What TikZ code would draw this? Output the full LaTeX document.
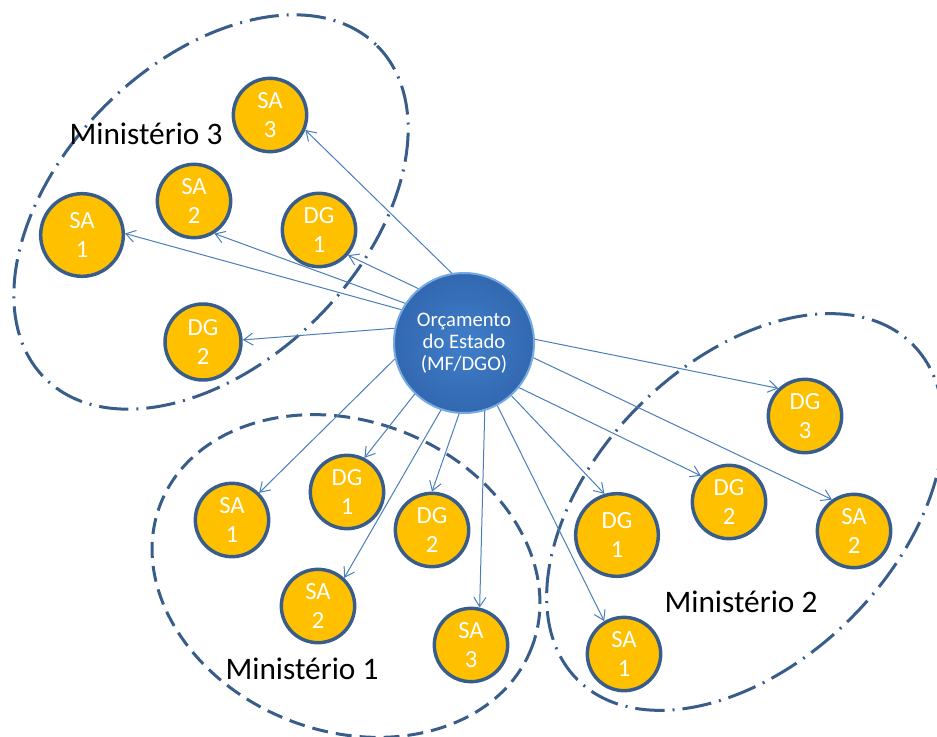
\documentclass[tikz,border=0pt]{standalone}
\usepackage{fontspec}
\setmainfont{Carlito}
\usetikzlibrary{arrows.meta}

\definecolor{unitfill}{RGB}{255,192,0}
\definecolor{unitborder}{RGB}{56,93,138}
\definecolor{flowline}{RGB}{74,126,187}
\definecolor{budgetblue}{RGB}{64,126,202}
\definecolor{budgetdark}{RGB}{50,104,176}
\definecolor{budgetring}{RGB}{118,170,226}

\tikzset{every picture/.style={line width=0.75pt}}
\tikzset{
  unit/.style={circle, draw=unitborder, fill=unitfill, line width=2.6pt, minimum size=55pt, inner sep=0pt, text=white, font=\fontsize{18.5}{22}\selectfont, align=center},
  bigunit/.style={unit, minimum size=62pt},
  budget/.style={circle, inner color=budgetblue, outer color=budgetdark, draw=budgetring, line width=1.5pt, minimum size=105pt, inner sep=0pt, text=white, font=\fontsize{15.5}{16.3}\selectfont, align=center},
  flow/.style={draw=flowline, line width=0.75pt, -{Straight Barb[length=7pt,width=9pt]}},
  groupline/.style={draw=unitborder, line width=2.25pt},
  dashdotline/.style={groupline, dash pattern=on 22pt off 6pt on 1.5pt off 6pt},
  dashline/.style={groupline, dash pattern=on 12pt off 6pt},
  grouplabel/.style={font=\fontsize{23.5}{28}\selectfont, inner sep=0pt}
}

\begin{document}
\begin{tikzpicture}[x=0.75pt,y=0.75pt,yscale=-1,xscale=1]
\useasboundingbox (0,0) rectangle (937,737);

%Shape: Ellipse Ministério 3
\draw [dashdotline, rotate around={-45:(211,212)}] (211,212) ellipse (235 and 150);
%Shape: Ellipse Ministério 2
\draw [dashdotline, rotate around={-45:(745,512)}] (745,512) ellipse (237 and 150);
%Shape: Ellipse Ministério 1
\draw [dashline, rotate around={21:(346,576)}] (346,576) ellipse (199 and 155);

%Shape: Circle centre
\node [budget] (budget) at (464,343) {Orçamento\\do Estado\\(MF/DGO)};

%Shape: Circles Ministério 3
\node [unit] (m3sa3) at (270,115) {SA\\3};
\node [unit] (m3sa2) at (194,201) {SA\\2};
\node [bigunit] (m3sa1) at (82,235) {SA\\1};
\node [unit] (m3dg1) at (319,230) {DG\\1};
\node [unit, minimum size=57pt] (m3dg2) at (203,342) {DG\\2};

%Shape: Circles Ministério 1
\node [unit] (m1sa1) at (232,520) {SA\\1};
\node [unit] (m1dg1) at (347,492) {DG\\1};
\node [unit] (m1dg2) at (432,530) {DG\\2};
\node [unit] (m1sa2) at (318,606) {SA\\2};
\node [unit] (m1sa3) at (471,645) {SA\\3};

%Shape: Circles Ministério 2
\node [unit] (m2dg3) at (805,416) {DG\\3};
\node [unit] (m2dg2) at (729,502) {DG\\2};
\node [unit] (m2sa2) at (854,531) {SA\\2};
\node [bigunit] (m2dg1) at (617,535) {DG\\1};
\node [unit] (m2sa1) at (624,654) {SA\\1};

%Straight Lines
\draw [flow] (budget.100) -- (m3sa3.-23);
\draw [flow] (budget.146) -- (m3sa2.-58);
\draw [flow] (budget.152) -- (m3sa1.2);
\draw [flow] (budget.130) -- (m3dg1.-41);
\draw [flow] (budget.168) -- (m3dg2.3);
\draw [flow] (budget.193) -- (m1sa1.45);
\draw [flow] (budget.226) -- (m1dg1.63);
\draw [flow] (budget.251) -- (m1sa2.47);
\draw [flow] (budget.266) -- (m1dg2.90);
\draw [flow] (budget.287) -- (m1sa3.77);
\draw [flow] (budget.-62) -- (m2sa1.121);
\draw [flow] (budget.-48) -- (m2dg1.107);
\draw [flow] (budget.-39) -- (m2dg2.137);
\draw [flow] (budget.-12) -- (m2sa2.125);
\draw [flow] (budget.3) -- (m2dg3.134);

% Text Node
\node [grouplabel] (label3) at (146,134) {Ministério 3};
% Text Node
\node [grouplabel] (label1) at (302,669) {Ministério 1};
% Text Node
\node [grouplabel] (label2) at (741,602) {Ministério 2};

\end{tikzpicture}
\end{document}
